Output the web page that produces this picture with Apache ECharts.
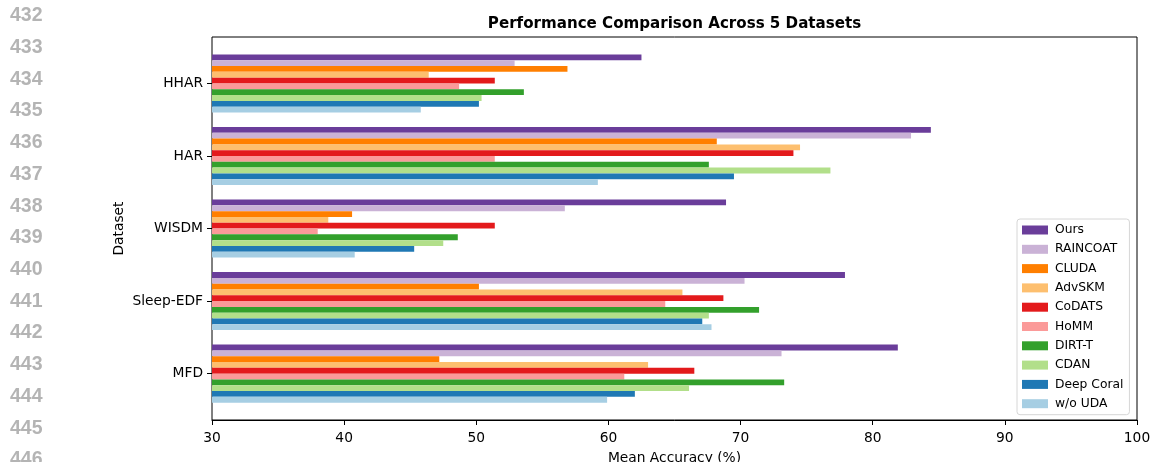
<!DOCTYPE html>
<html>
<head>
<meta charset="utf-8">
<style>
html,body{margin:0;padding:0;background:#fff;}
#chart{width:1152px;height:462px;}
</style>
<script src="https://cdn.jsdelivr.net/npm/echarts@6/dist/echarts.min.js"></script>
</head>
<body>
<div id="chart"></div>
<script>
const categories = ['HHAR', 'HAR', 'WISDM', 'Sleep-EDF', 'MFD'];
const methods = ['Ours', 'RAINCOAT', 'CLUDA', 'AdvSKM', 'CoDATS', 'HoMM', 'DIRT-T', 'CDAN', 'Deep Coral', 'w/o UDA'];
const colors = ['#6a3d9a', '#cab2d6', '#ff7f00', '#fdbf6f', '#e31a1c', '#fb9a99', '#33a02c', '#b2df8a', '#1f78b4', '#a6cee3'];

const ours      = [62.5, 84.4, 68.9, 77.9, 81.9];
const raincoat  = [52.9, 82.9, 56.7, 70.3, 73.1];
const cluda     = [56.9, 68.2, 40.6, 50.2, 47.2];
const advskm    = [46.4, 74.5, 38.8, 65.6, 63.0];
const codats    = [51.4, 74.0, 51.4, 68.7, 66.5];
const homm      = [48.7, 51.4, 38.0, 64.3, 61.2];
const dirtt     = [53.6, 67.6, 48.6, 71.4, 73.3];
const cdan      = [50.4, 76.8, 47.5, 67.6, 66.1];
const deepcoral = [50.2, 69.5, 45.3, 67.1, 62.0];
const woUDA     = [45.8, 59.2, 40.8, 67.8, 59.9];

const xTicks = [30, 40, 50, 60, 70, 80, 90, 100];
const lineNumbers = [432, 433, 434, 435, 436, 437, 438, 439, 440, 441, 442, 443, 444, 445, 446];

const seriesValues = [ours, raincoat, cluda, advskm, codats, homm, dirtt, cdan, deepcoral, woUDA];

const FONT = 'DejaVu Sans';
const AX = 13.8;
const chart = echarts.init(document.getElementById('chart'), null, {renderer: 'canvas'});

const graphics = lineNumbers.map((n, i) => ({
  type: 'text',
  left: 10,
  top: 15.7 + i * 31.74 - 10,
  style: {text: String(n), font: 'bold 19.5px "Liberation Sans"', fill: '#b4b4b4'}
}));

const option = {
  backgroundColor: '#fff',
  animation: false,
  title: {
    text: 'Performance Comparison Across 5 Datasets',
    left: 669.5, top: 12, textAlign: 'center',
    textStyle: {fontFamily: FONT, fontWeight: 'bold', fontSize: 15.1, color: '#000'}
  },
  legend: {
    data: methods,
    orient: 'vertical',
    left: 1017, top: 219,
    padding: [5, 6, 5, 5],
    itemWidth: 26, itemHeight: 9, itemGap: 7.3,
    icon: 'rect',
    borderColor: '#d6d6d6', borderWidth: 1, borderRadius: 3,
    backgroundColor: 'rgba(255,255,255,0.85)',
    textStyle: {fontFamily: FONT, fontSize: 12.3, color: '#000', padding: [0, 0, 0, 2]}
  },
  graphic: graphics,
  grid: [
    {left: 212, top: 37, width: 925, height: 383, show: true, borderColor: '#000', borderWidth: 1,
     backgroundColor: 'transparent', containLabel: false, outerBoundsMode: 'none'},
    {left: 212, top: 47.2, width: 925, height: 362.7, containLabel: false, outerBoundsMode: 'none'}
  ],
  xAxis: [
    {
      gridIndex: 0, type: 'value', min: 30, max: 100, interval: 10,
      axisLine: {show: true, lineStyle: {color: '#000', width: 1}},
      axisTick: {show: true, inside: false, length: 5, lineStyle: {color: '#000'}},
      axisLabel: {fontFamily: FONT, fontSize: AX, color: '#000', margin: 11,
        formatter: v => xTicks.includes(v) ? String(v) : ''},
      splitLine: {show: false},
      name: 'Mean Accuracy (%)', nameLocation: 'middle', nameGap: 31, nameMoveOverlap: false,
      nameTextStyle: {fontFamily: FONT, fontSize: AX, color: '#000'}
    },
    {gridIndex: 1, type: 'value', min: 30, max: 100, show: false, splitLine: {show: false}}
  ],
  yAxis: [
    {gridIndex: 0, type: 'value', show: false, splitLine: {show: false}},
    {
      gridIndex: 1, type: 'category', data: categories, inverse: true,
      axisLine: {show: false},
      axisTick: {show: true, alignWithLabel: true, inside: false, length: 5, lineStyle: {color: '#000'}},
      axisLabel: {fontFamily: FONT, fontSize: AX, color: '#000', margin: 9},
      splitLine: {show: false},
      name: 'Dataset', nameLocation: 'middle', nameRotate: 90, nameGap: 86, nameMoveOverlap: false,
      nameTextStyle: {fontFamily: FONT, fontSize: AX, color: '#000'}
    }
  ],
  series: methods.map((m, i) => ({
    name: m,
    type: 'bar',
    xAxisIndex: 1, yAxisIndex: 1,
    data: seriesValues[i],
    barGap: '0%',
    barCategoryGap: '20%',
    itemStyle: {color: colors[i]},
    clip: true
  }))
};
chart.setOption(option);
</script>
</body>
</html>
